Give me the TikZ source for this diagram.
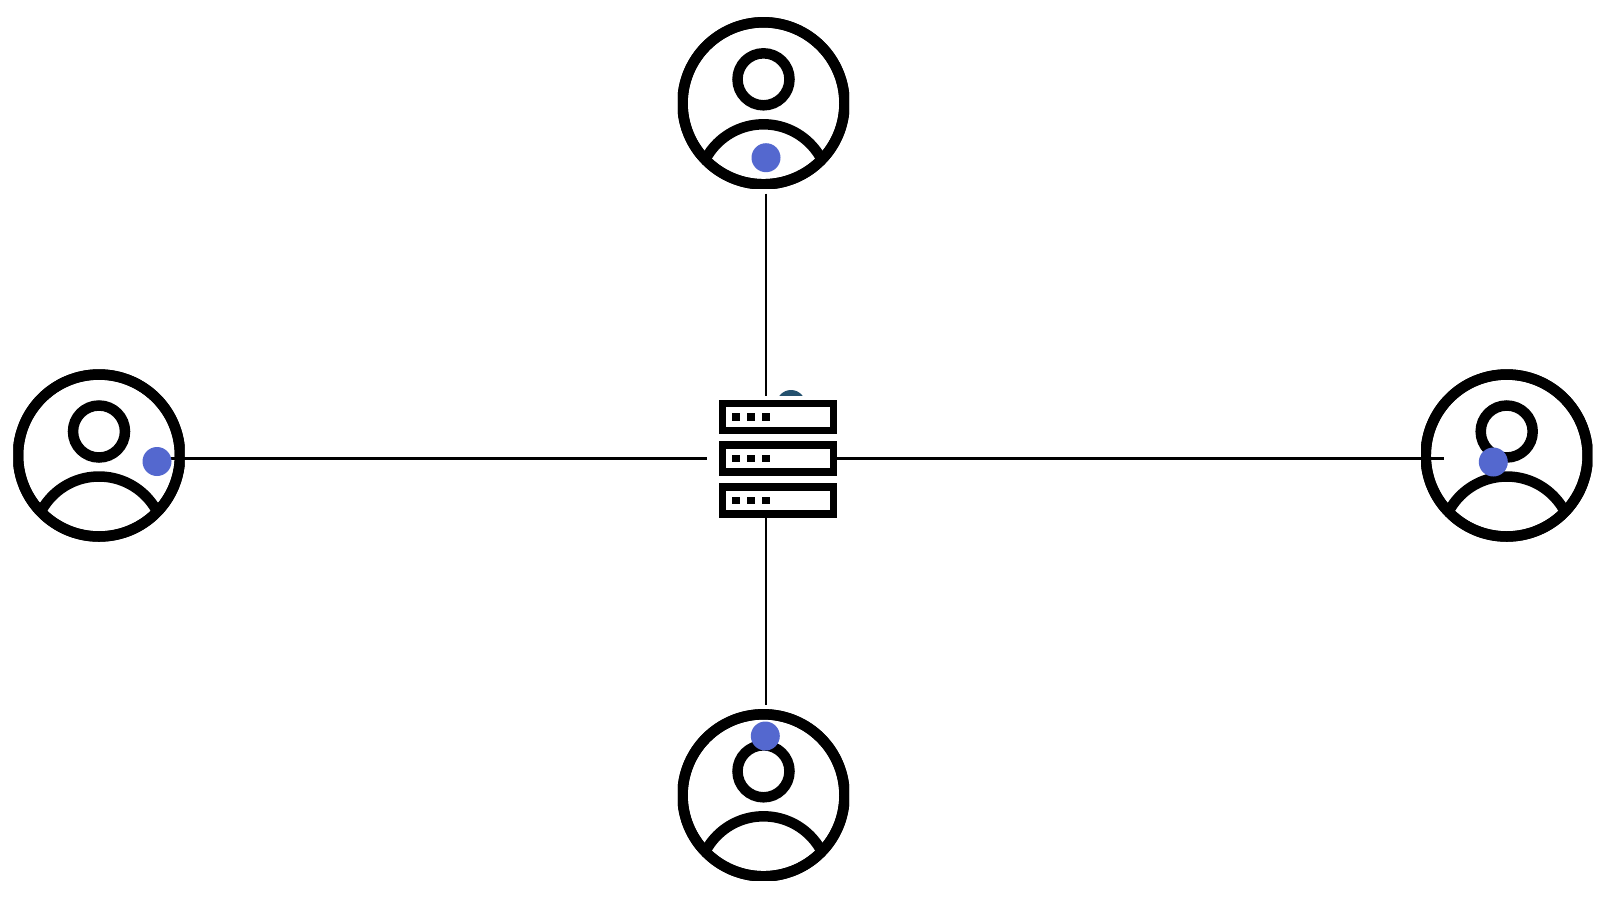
\documentclass[tikz,border=0pt]{standalone}
\definecolor{dotblue}{HTML}{5468CF}
\definecolor{dotteal}{HTML}{24516E}
\tikzset{
  ring/.style={circle,draw=black,line width=10.5pt,fill=white,minimum size=162pt,inner sep=0pt,outer sep=0pt},
  head/.style={circle,draw=black,line width=10.5pt,minimum size=52pt,inner sep=0pt,outer sep=0pt},
  dot/.style={circle,fill=#1,minimum size=29pt,inner sep=0pt,outer sep=0pt},
  rack/.style={draw=black,line width=7.3pt,fill=white,minimum width=111pt,minimum height=27pt,inner sep=0pt,outer sep=0pt},
  led/.style={fill=black,minimum size=7.7pt,inner sep=0pt,outer sep=0pt},
  wire/.style={draw=black,line width=2.1pt},
}
\newcommand{\usericon}[3]{% name, x, y
  \begin{scope}
    \clip (#2-85.6,#3-85.6) rectangle (#2+85.6,#3+85.6);
    \node[ring] (#1) at (#2,#3) {};
    \node[head] (#1head) at (#2,#3-24) {};
    \begin{scope}
      \clip (#1) circle[radius=81];
      \draw[line width=10.5pt] (#2,#3+86.6) circle[radius=65.6];
    \end{scope}
    \draw[line width=10.5pt] (#1) circle[radius=81];
  \end{scope}
}
\newcommand{\rackunit}[2]{% name, y of leds offset
  \node[rack] (#1) at (778.2,#2) {};
  \node[led] (#1a) at (735.7,#2) {};
  \node[led] (#1b) at (751,#2) {};
  \node[led] (#1c) at (765.7,#2) {};
}
\begin{document}
\begin{tikzpicture}[x=1pt,y=-1pt]
\useasboundingbox (0,0) rectangle (1600,914);
\fill[white] (0,0) rectangle (1600,914);
% hidden dot behind the server picture
\node[dot=dotteal] (hid) at (791,404.5) {};
\fill[white] (700,396) rectangle (860,412);
% users
\usericon{top}{763.5}{103.3}
\usericon{left}{99}{455.5}
\usericon{right}{1506.7}{455.5}
\usericon{bot}{763.5}{795.3}
% connector ends
\coordinate (topA) at (766,193.5);
\coordinate (topB) at (766,396);
\coordinate (botA) at (766,517);
\coordinate (botB) at (766,705);
\coordinate (leftA) at (171,458.5);
\coordinate (leftB) at (706.7,458.5);
\coordinate (rightA) at (836,458.5);
\coordinate (rightB) at (1444,458.5);
\draw[wire] (topA) -- (topB);
\draw[wire] (botA) -- (botB);
\draw[wire] (leftA) -- (leftB);
\draw[wire] (rightA) -- (rightB);
% server
\rackunit{ra}{417.2}
\rackunit{rb}{458.5}
\rackunit{rc}{500.6}
% blue dots
\node[dot=dotblue] (dtop) at (766,157.7) {};
\node[dot=dotblue] (dleft) at (157,461.5) {};
\node[dot=dotblue] (dright) at (1493.3,462) {};
\node[dot=dotblue] (dbot) at (765.3,736) {};
\end{tikzpicture}
\end{document}
